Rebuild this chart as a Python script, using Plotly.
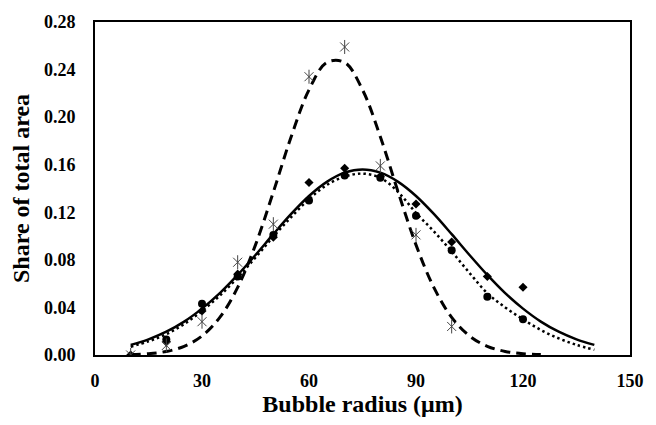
import plotly.graph_objects as go

# Measured size-distribution points (share of total area vs bubble radius, µm)
radius_star = [10, 20, 30, 40, 50, 60, 70, 80, 90, 100]
share_star = [0.0, 0.008, 0.028, 0.078, 0.110, 0.234, 0.259, 0.159, 0.101, 0.024]

radius_diamond = [10, 20, 30, 40, 50, 60, 70, 80, 90, 100, 110, 120]
share_diamond = [0.0, 0.011, 0.037, 0.068, 0.099, 0.145, 0.157, 0.150, 0.127, 0.095, 0.066, 0.057]

radius_circle = [20, 30, 40, 50, 60, 70, 80, 90, 100, 110, 120]
share_circle = [0.013, 0.043, 0.066, 0.101, 0.130, 0.151, 0.149, 0.117, 0.088, 0.049, 0.030]

# Fitted distribution curves
fit_radius = [10, 15, 20, 25, 30, 35, 40, 45, 50, 55, 60, 65, 70, 75,
              80, 85, 90, 95, 100, 105, 110, 115, 120, 125, 130, 135, 140]
fit_solid = [0.0085, 0.0132, 0.0196, 0.0281, 0.0390, 0.0520, 0.0673, 0.0841, 0.1016,
             0.1186, 0.1337, 0.1456, 0.1533, 0.1560, 0.1533, 0.1456, 0.1337, 0.1186,
             0.1016, 0.0841, 0.0673, 0.0520, 0.0390, 0.0281, 0.0196, 0.0132, 0.0085]
fit_dotted = [0.0070, 0.0115, 0.0175, 0.0260, 0.0370, 0.0500, 0.0650, 0.0820, 0.0995,
              0.1160, 0.1310, 0.1430, 0.1500, 0.1525, 0.1490, 0.1370, 0.1195, 0.1040,
              0.0870, 0.0690, 0.0520, 0.0400, 0.0300, 0.0210, 0.0140, 0.0085, 0.0044]

fit_dash_radius = [10, 15, 20, 25, 30, 35, 40, 45, 50, 55, 60, 65, 70,
                   75, 80, 85, 90, 95, 100, 105, 110, 115, 120, 125]
fit_dashed = [0.0004, 0.0011, 0.0030, 0.0073, 0.0160, 0.0316, 0.0568, 0.0926, 0.1370,
              0.1835, 0.2230, 0.2460, 0.2460, 0.2230, 0.1835, 0.1370, 0.0926, 0.0568,
              0.0316, 0.0160, 0.0073, 0.0030, 0.0011, 0.0004]

x_ticks = [0, 30, 60, 90, 120, 150]
y_ticks = [0.00, 0.04, 0.08, 0.12, 0.16, 0.20, 0.24, 0.28]

FONT = "Liberation Serif"
STAR_COLOR = "#444444"

fig = go.Figure()

fig.add_trace(go.Scatter(x=fit_dash_radius, y=fit_dashed, mode="lines",
                         line=dict(color="black", width=3, dash="10px,6px", shape="spline"),
                         hoverinfo="skip"))
fig.add_trace(go.Scatter(x=fit_radius, y=fit_dotted, mode="lines",
                         line=dict(color="black", width=2.5, dash="2.5px,3px", shape="spline"),
                         hoverinfo="skip"))
fig.add_trace(go.Scatter(x=fit_radius, y=fit_solid, mode="lines",
                         line=dict(color="black", width=2.5, shape="spline"),
                         hoverinfo="skip"))

fig.add_trace(go.Scatter(x=radius_diamond, y=share_diamond, mode="markers",
                         marker=dict(symbol="diamond", size=7, color="black")))
fig.add_trace(go.Scatter(x=radius_circle, y=share_circle, mode="markers",
                         marker=dict(symbol="circle", size=8, color="black")))
# six-armed star marker: an "x" plus a vertical stroke
fig.add_trace(go.Scatter(x=radius_star, y=share_star, mode="markers",
                         marker=dict(symbol="x-thin-open", size=9, color=STAR_COLOR,
                                     line=dict(color=STAR_COLOR, width=1))))
fig.add_trace(go.Scatter(x=radius_star, y=share_star, mode="markers",
                         marker=dict(symbol="line-ns-open", size=10, color=STAR_COLOR,
                                     line=dict(color=STAR_COLOR, width=1))))

fig.update_layout(
    width=656, height=425,
    margin=dict(l=95, r=17, t=18, b=68),
    paper_bgcolor="white", plot_bgcolor="white",
    showlegend=False,
    font=dict(family=FONT, color="black"),
)
fig.update_xaxes(
    range=[0, 150], tickvals=x_ticks, ticktext=[str(v) for v in x_ticks],
    showgrid=False, zeroline=False, showline=True, linecolor="black", linewidth=2,
    mirror=True, ticks="", ticklabelstandoff=8,
    tickfont=dict(family=FONT, size=18, color="black", weight="bold"),
    title=dict(text="<b>Bubble radius (μm)</b>", font=dict(family=FONT, size=24), standoff=6),
)
fig.update_yaxes(
    range=[0, 0.28], tickvals=y_ticks, ticktext=[f"{v:.2f}" for v in y_ticks],
    showgrid=False, zeroline=False, showline=True, linecolor="black", linewidth=2,
    mirror=True, ticks="", ticklabelstandoff=14,
    tickfont=dict(family=FONT, size=18, color="black", weight="bold"),
    title=dict(text="<b>Share of total area</b>", font=dict(family=FONT, size=24), standoff=8),
)

fig.write_html("out.html")
